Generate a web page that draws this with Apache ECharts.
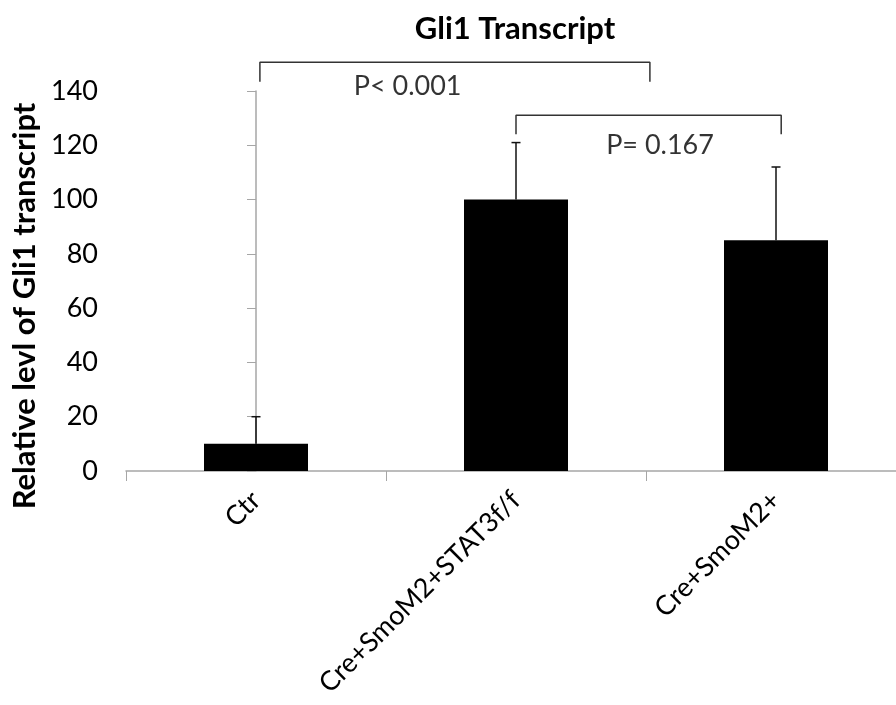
<!DOCTYPE html>
<html>
<head>
<meta charset="utf-8">
<script src="https://cdn.jsdelivr.net/npm/echarts@6/dist/echarts.min.js"></script>
<style>html,body{margin:0;padding:0;background:#fff;}#c{width:896px;height:705px;}</style>
</head>
<body>
<div id="c"></div>
<script>
const categories = ['Ctr', 'Cre+SmoM2+STAT3f/f', 'Cre+SmoM2+'];
const means = [10, 100, 85];
const errors = [10, 21, 27];
const yTicks = { min: 0, max: 140, interval: 20 };
// brackets in data units: [xIndex, value]
const bracket1 = [[0.015, 143.4], [0.015, 150.6], [1.515, 150.6], [1.515, 143.4]];
const bracket2 = [[1.0, 124.1], [1.0, 131.1], [2.02, 131.1], [2.02, 124.1]];
const pLabels = [
  { name: 'P< 0.001', value: [0.583, 141.8] },
  { name: 'P= 0.167', value: [1.554, 120.0] }
];

const FONT = 'Lato, Carlito, "Open Sans", sans-serif';
const chart = echarts.init(document.getElementById('c'), null, { renderer: 'canvas' });

chart.setOption({
  animation: false,
  backgroundColor: '#fff',
  title: {
    text: 'Gli1 Transcript',
    left: 510, top: 8, textAlign: 'center',
    textStyle: { fontFamily: FONT, fontWeight: 'bold', fontSize: 31, color: '#000' }
  },
  grid: { left: 126, top: 91, width: 780, height: 380, containLabel: false, outerBoundsMode: 'none' },
  xAxis: [
    {
      type: 'category', data: categories, boundaryGap: true,
      axisLine: { lineStyle: { color: '#a6a6a6', width: 1.5 } },
      axisTick: { show: true, inside: false, length: 10, lineStyle: { color: '#a6a6a6' } },
      axisLabel: { rotate: 45, margin: 25, fontFamily: FONT, fontSize: 27, color: '#000', interval: 0 }
    },
    { type: 'value', min: -0.5, max: 2.5, show: false }
  ],
  yAxis: {
    type: 'value', min: yTicks.min, max: yTicks.max, interval: yTicks.interval,
    name: 'Relative levl of Gli1 transcript', nameLocation: 'middle', nameGap: 82,
    nameTextStyle: { fontFamily: FONT, fontWeight: 'bold', fontSize: 31, color: '#000', padding: [0, 50, 0, 0] },
    axisLine: { show: true, lineStyle: { color: '#a6a6a6', width: 1.5 } },
    axisTick: { show: true, inside: false, length: 9, lineStyle: { color: '#a6a6a6' } },
    axisLabel: { margin: 28, fontFamily: FONT, fontSize: 27, color: '#000' },
    splitLine: { show: false }
  },
  series: [
    {
      type: 'bar', data: means, barWidth: 104, xAxisIndex: 0,
      itemStyle: { color: '#000' }
    },
    {
      type: 'custom', xAxisIndex: 0, z: 1,
      data: means.map((m, i) => [i, m, errors[i]]),
      renderItem: function (params, api) {
        const i = api.value(0), m = api.value(1), e = api.value(2);
        const p0 = api.coord([i, m]);
        const p1 = api.coord([i, m + e]);
        const hw = 4.5;
        const style = { stroke: '#111', lineWidth: 1.5 };
        return {
          type: 'group',
          children: [
            { type: 'line', shape: { x1: p0[0], y1: p0[1], x2: p1[0], y2: p1[1] }, style: style },
            { type: 'line', shape: { x1: p1[0] - hw, y1: p1[1], x2: p1[0] + hw, y2: p1[1] }, style: style }
          ]
        };
      }
    },
    {
      type: 'line', xAxisIndex: 1, data: bracket1, symbol: 'none', clip: false,
      lineStyle: { color: '#333', width: 1.5 }
    },
    {
      type: 'line', xAxisIndex: 1, data: bracket2, symbol: 'none', clip: false,
      lineStyle: { color: '#333', width: 1.5 }
    },
    {
      type: 'scatter', xAxisIndex: 1, data: pLabels, symbolSize: 0, clip: false,
      label: {
        show: true, position: 'inside', formatter: '{b}',
        fontFamily: FONT, fontSize: 27, color: '#000'
      }
    }
  ]
});
</script>
</body>
</html>
